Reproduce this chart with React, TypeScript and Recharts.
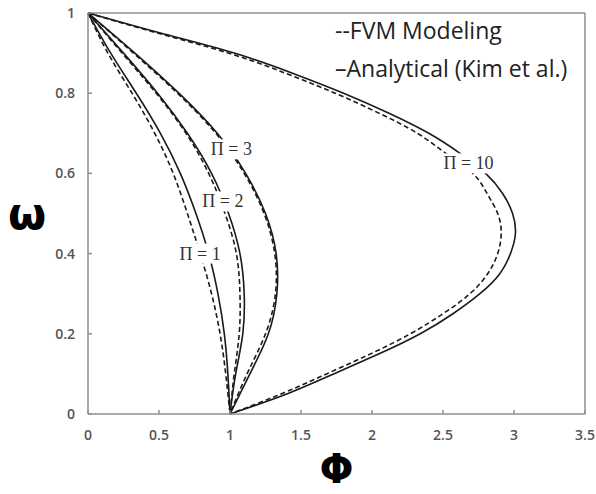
import { LineChart, Line, XAxis, YAxis, ReferenceLine, ReferenceDot, Legend } from "recharts"

// omega (y) steps used by the curves
const omegaCoarse = [1, 0.9, 0.8, 0.7, 0.6, 0.5, 0.4, 0.3, 0.2, 0.1, 0]
const omegaFine = [1, 0.95, 0.9, 0.85, 0.8, 0.75, 0.7, 0.65, 0.6, 0.55, 0.5, 0.45, 0.4, 0.35, 0.3, 0.25, 0.2, 0.15, 0.1, 0.05, 0]

// phi (x), one value per omega step
const phiAnalytical1 = [0, 0.16, 0.34, 0.51, 0.65, 0.76, 0.85, 0.915, 0.96, 0.985, 1]
const phiFvm1 = [0, 0.14, 0.31, 0.47, 0.6, 0.7, 0.79, 0.87, 0.93, 0.97, 1]
const phiAnalytical2 = [0, 0.25, 0.49, 0.7, 0.87, 0.99, 1.07, 1.1, 1.09, 1.04, 1]
const phiFvm2 = [0, 0.24, 0.48, 0.69, 0.85, 0.965, 1.045, 1.07, 1.065, 1.03, 1]
const phiAnalytical3 = [0, 0.33, 0.64, 0.91, 1.11, 1.25, 1.325, 1.33, 1.27, 1.14, 1]
const phiFvm3 = [0, 0.32, 0.63, 0.9, 1.1, 1.24, 1.315, 1.32, 1.25, 1.12, 1]
const phiAnalytical10 = [0, 0.51, 1.03, 1.44, 1.8, 2.12, 2.4, 2.62, 2.8, 2.92, 2.99, 3.01, 2.975, 2.9, 2.76, 2.57, 2.34, 2.05, 1.73, 1.4, 1]
const phiFvm10 = [0, 0.49, 0.99, 1.39, 1.74, 2.05, 2.32, 2.52, 2.71, 2.81, 2.885, 2.91, 2.885, 2.815, 2.69, 2.5, 2.27, 1.99, 1.68, 1.36, 1]

const xTicks = [0, 0.5, 1, 1.5, 2, 2.5, 3, 3.5]
const yTicks = [0, 0.2, 0.4, 0.6, 0.8, 1]

const labelText = ["Π = 1", "Π = 2", "Π = 3", "Π = 10"]
const labelPhi = [0.79, 0.95, 1.01, 2.68]
const labelOmega = [0.4, 0.53, 0.66, 0.625]

const toPoints = (omega: number[], phi: number[]) => omega.map((w, i) => ({ phi: phi[i], omega: w }))

const series = [
  { key: "a1", data: toPoints(omegaCoarse, phiAnalytical1), dashed: false },
  { key: "f1", data: toPoints(omegaCoarse, phiFvm1), dashed: true },
  { key: "a2", data: toPoints(omegaCoarse, phiAnalytical2), dashed: false },
  { key: "f2", data: toPoints(omegaCoarse, phiFvm2), dashed: true },
  { key: "a3", data: toPoints(omegaCoarse, phiAnalytical3), dashed: false },
  { key: "f3", data: toPoints(omegaCoarse, phiFvm3), dashed: true },
  { key: "a10", data: toPoints(omegaFine, phiAnalytical10), dashed: false },
  { key: "f10", data: toPoints(omegaFine, phiFvm10), dashed: true },
]

const frame = "#8f8f8f"
const tickStyle = { fill: "#555", fontSize: 14, fontWeight: 600, fontFamily: "Open Sans" }

function PiLabel({ cx, cy, text }: { cx?: number; cy?: number; text: string }) {
  if (cx == null || cy == null) return null
  const w = text.length > 5 ? 52 : 44
  return (
    <g>
      <rect x={cx - w / 2} y={cy - 10} width={w} height={20} fill="#fff" />
      <text x={cx} y={cy + 6} textAnchor="middle" fontFamily="Liberation Serif" fontSize={18} fill="#333">
        {text}
      </text>
    </g>
  )
}

function LegendBox() {
  return (
    <div style={{ fontFamily: "Open Sans", fontSize: 23, lineHeight: "38px", color: "#222", whiteSpace: "nowrap" }}>
      <div>--FVM Modeling</div>
      <div>–Analytical (Kim et al.)</div>
    </div>
  )
}

export default function App() {
  return (
    <div style={{ position: "absolute", left: 0, top: 0 }}>
      <LineChart width={596} height={494} margin={{ top: 13, right: 11, left: 0, bottom: 0 }}>
        <XAxis
          dataKey="phi"
          type="number"
          domain={[0, 3.5]}
          ticks={xTicks}
          height={80}
          stroke={frame}
          strokeWidth={1.5}
          tickSize={-4}
          tickMargin={20}
          tick={tickStyle}
          label={{ value: "Φ", position: "insideBottom", offset: 11, style: { fontFamily: "DejaVu Sans", fontWeight: "bold", fontSize: 40, fill: "#000" } }}
        />
        <YAxis
          dataKey="omega"
          type="number"
          domain={[0, 1]}
          ticks={yTicks}
          width={88}
          stroke={frame}
          strokeWidth={1.5}
          tickSize={-4}
          tickMargin={17}
          tick={tickStyle}
          label={{ value: "ω", position: "insideLeft", offset: 8, style: { fontFamily: "DejaVu Sans", fontWeight: "bold", fontSize: 44, fill: "#000" } }}
        />
        <ReferenceLine y={1} stroke={frame} strokeWidth={1.5} />
        <ReferenceLine x={3.5} stroke={frame} strokeWidth={1.5} />
        {series.map((s) => (
          <Line
            key={s.key}
            data={s.data}
            dataKey="omega"
            type="natural"
            stroke="#1a1a1a"
            strokeWidth={1.6}
            strokeDasharray={s.dashed ? "5 3" : undefined}
            dot={false}
            isAnimationActive={false}
          />
        ))}
        {labelText.map((t, i) => (
          <ReferenceDot
            key={t}
            x={labelPhi[i]}
            y={labelOmega[i]}
            r={0}
            shape={(p: any) => <PiLabel cx={p.cx} cy={p.cy} text={t} />}
          />
        ))}
        <Legend
          layout="horizontal"
          verticalAlign="middle"
          align="center"
          wrapperStyle={{ top: 11, left: 335, width: 260 }}
          content={() => <LegendBox />}
        />
      </LineChart>
    </div>
  )
}
